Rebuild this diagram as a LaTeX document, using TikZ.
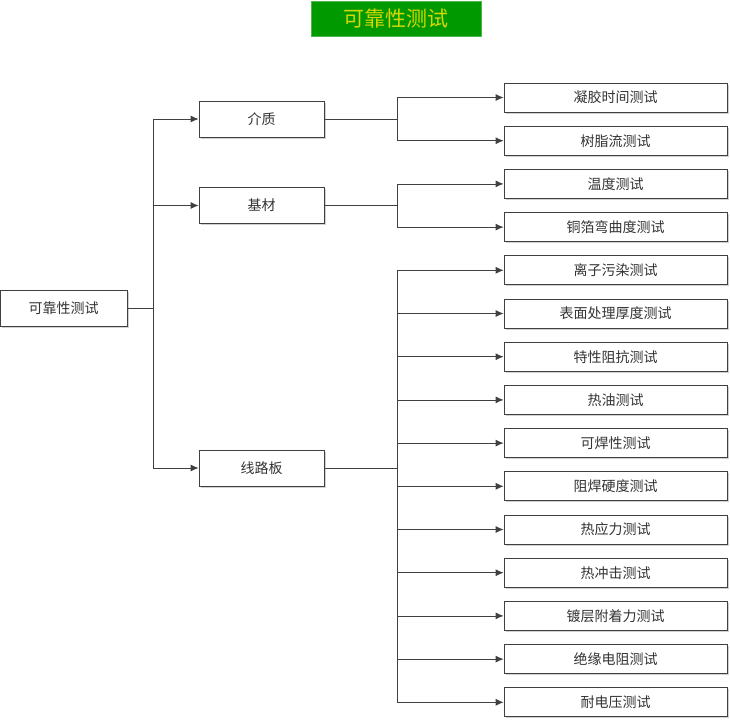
\documentclass[tikz,border=0pt]{standalone}
\usepackage{fontspec}
\newfontfamily\cjk{Noto Sans CJK SC}
\usepackage{xcolor}
\usetikzlibrary{arrows.meta, positioning, shadows}

\definecolor{linegray}{RGB}{64,64,64}
\definecolor{titlegreen}{RGB}{0,153,0}
\definecolor{titleyellow}{RGB}{214,214,0}

\begin{document}
\begin{tikzpicture}[
        x=1pt, y=-1pt,
        node distance=13.4pt,
        font=\cjk\fontsize{14}{16}\selectfont,
        box/.style={rectangle, draw=linegray, fill=white, line width=0.8pt, text=black!80,
            drop shadow={shadow xshift=1.5pt, shadow yshift=-1.5pt, fill=black!30, opacity=0.6}},
        level/.style={box, minimum width=125pt, minimum height=36pt},
        test/.style={box, minimum width=223pt, minimum height=29pt},
        title/.style={rectangle, draw=titlegreen!70, fill=titlegreen, text=titleyellow,
            minimum width=170pt, minimum height=35pt, font=\cjk\fontsize{21}{24}\selectfont},
        arrow/.style={draw=linegray, line width=0.8pt, -{Latex[length=8pt, width=7pt]}}
    ]
    \useasboundingbox (0,0) rectangle (730,720);

    % Title
    \node (Title) [title] at (396,18.5) {可靠性测试};

    % Root and second level
    \node (Root) [box, minimum width=127pt, minimum height=36pt] at (63.5,308) {可靠性测试};
    \node (Medium) [level] at (261.5,119) {介质};
    \node (Base) [level] at (261.5,205.5) {基材};
    \node (Board) [level] at (261.5,468) {线路板};

    % Tests
    \node (T1) [test] at (615.5,97.5) {凝胶时间测试};
    \node (T2) [test, below=of T1] {树脂流测试};
    \node (T3) [test, below=of T2] {温度测试};
    \node (T4) [test, below=of T3] {铜箔弯曲度测试};
    \node (T5) [test, below=of T4] {离子污染测试};
    \node (T6) [test, below=of T5] {表面处理厚度测试};
    \node (T7) [test, below=of T6] {特性阻抗测试};
    \node (T8) [test, below=of T7] {热油测试};
    \node (T9) [test, below=of T8] {可焊性测试};
    \node (T10) [test, below=of T9] {阻焊硬度测试};
    \node (T11) [test, below=of T10] {热应力测试};
    \node (T12) [test, below=of T11] {热冲击测试};
    \node (T13) [test, below=of T12] {镀层附着力测试};
    \node (T14) [test, below=of T13] {绝缘电阻测试};
    \node (T15) [test, below=of T14] {耐电压测试};

    % Connectors
    \foreach \m in {Medium, Base, Board}
        \draw[arrow] (Root.east) -- ++(26,0) |- (\m.west);
    \foreach \t in {1,2}
        \draw[arrow] (Medium.east) -- ++(73,0) |- (T\t.west);
    \foreach \t in {3,4}
        \draw[arrow] (Base.east) -- ++(73,0) |- (T\t.west);
    \foreach \t in {5,...,15}
        \draw[arrow] (Board.east) -- ++(73,0) |- (T\t.west);

\end{tikzpicture}
\end{document}
